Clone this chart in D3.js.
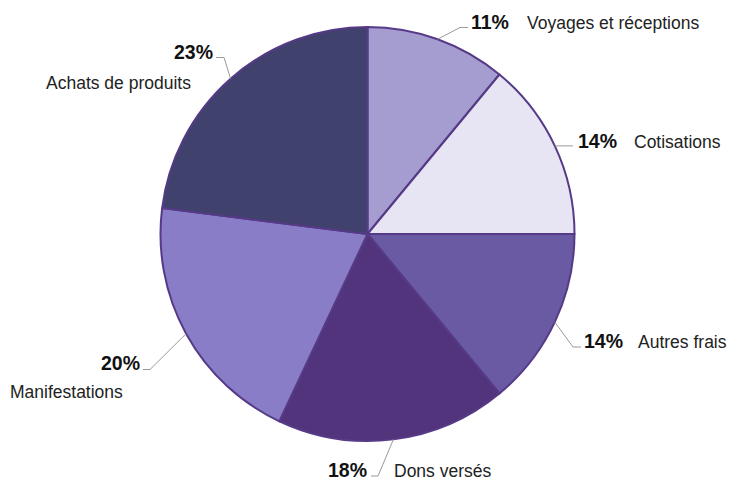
<!DOCTYPE html>
<html><head><meta charset="utf-8">
<script src="https://cdn.jsdelivr.net/npm/d3@7"></script>
<style>
html,body{margin:0;padding:0;background:#fff;}
svg{display:block;}
</style></head>
<body>
<svg id="chart" width="732" height="479"></svg>
<script>
const categories = ["Voyages et réceptions","Cotisations","Autres frais","Dons versés","Manifestations","Achats de produits"];
const values = [11,14,14,18,20,23];
const pctLabels = ["11%","14%","14%","18%","20%","23%"];
const colors = ["#a59ccf","#e7e4f3","#6a59a3","#51347b","#887dc6","#40416c"];

// label layout (positions of leader elbows and texts)
const layout = [
  {elbow:[460,27.5], end:[468,27.5], pct:[471,28.5,"start"], name:[527,28.5,"start"]},
  {elbow:null, end:[573,146], pct:[578,148,"start"], name:[634,148,"start"]},
  {elbow:[573,347], end:[581,347], pct:[584,347.5,"start"], name:[638,347.5,"start"]},
  {elbow:[378,476], end:[371,476], pct:[367,476.5,"end"], name:[394,476.5,"start"]},
  {elbow:[150,369.5], end:[143,369.5], pct:[140,370,"end"], name:[10,398,"start"]},
  {elbow:[224,57.5], end:[216,57.5], pct:[213,58.5,"end"], name:[46,88.5,"start"]}
];

const cx = 367.5, cy = 234, r = 207;
const svg = d3.select("#chart");
const g = svg.append("g").attr("transform", `translate(${cx},${cy})`);

const pie = d3.pie().sort(null).value(d => d)(values);
const arc = d3.arc().innerRadius(0).outerRadius(r);

g.selectAll("path.slice").data(pie).enter().append("path")
  .attr("class","slice")
  .attr("d", arc)
  .attr("fill", (d,i) => colors[i])
  .attr("stroke", "#563a87")
  .attr("stroke-width", 2)
  .attr("stroke-linejoin","round");

// leader lines and labels
const line = d3.line();
pie.forEach((d,i) => {
  const a = (d.startAngle + d.endAngle)/2;
  const p0 = [cx + r*Math.sin(a), cy - r*Math.cos(a)];
  const L = layout[i];
  const pts = [p0];
  if (L.elbow) { pts.push(L.elbow); pts.push(L.end); }
  else pts.push([L.end[0], p0[1]]);
  svg.append("path").attr("d", line(pts))
    .attr("fill","none").attr("stroke","#9a9a9a").attr("stroke-width",1);
  svg.append("text")
    .attr("x", L.pct[0]).attr("y", L.pct[1]).attr("text-anchor", L.pct[2])
    .attr("font-family","Liberation Sans, Arial, sans-serif")
    .attr("font-weight","bold").attr("font-size",19.5).attr("fill","#111")
    .text(pctLabels[i]);
  svg.append("text")
    .attr("x", L.name[0]).attr("y", L.name[1]).attr("text-anchor", L.name[2])
    .attr("font-family","Liberation Sans, Arial, sans-serif")
    .attr("font-size",17.5).attr("fill","#222")
    .text(categories[i]);
});
</script>
</body></html>
